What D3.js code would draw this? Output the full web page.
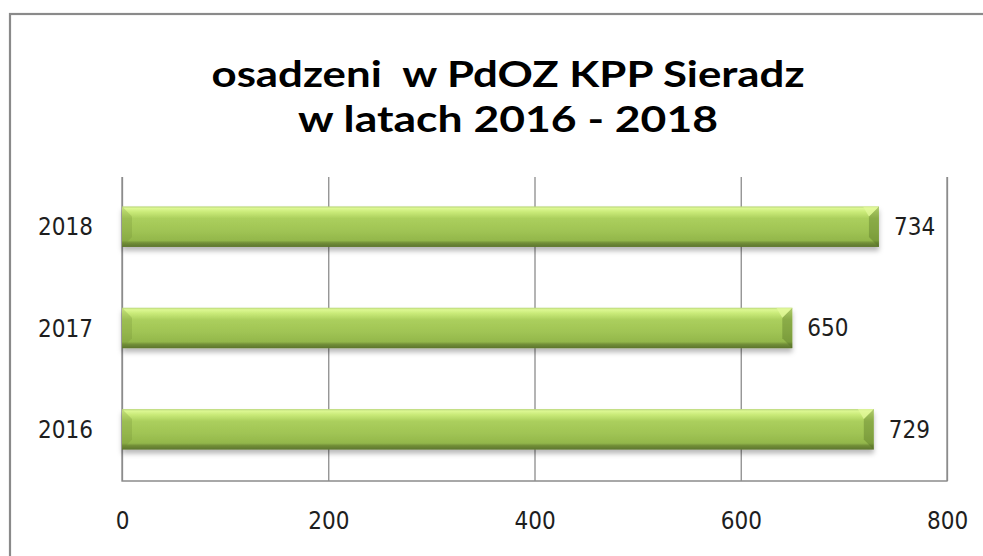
<!DOCTYPE html>
<html>
<head>
<meta charset="utf-8">
<script src="https://cdn.jsdelivr.net/npm/d3@7"></script>
<style>
  html, body { margin: 0; padding: 0; background: #fff; overflow: hidden; }
  svg { display: block; }
</style>
</head>
<body>
<div id="chart"></div>
<script>
// chart data
var years = ["2016", "2017", "2018"];
var counts = [729, 650, 734];
var xTicks = [0, 200, 400, 600, 800];
var titleLines = ["osadzeni  w PdOZ KPP Sieradz", "w latach 2016 - 2018"];

var width = 983, height = 556;
var m = {left: 122, right: 947, top: 177, bottom: 481};
var labelFont = "'DejaVu Sans Condensed', 'DejaVu Sans', sans-serif";

var svg = d3.select("#chart").append("svg")
    .attr("width", width)
    .attr("height", height);

var defs = svg.append("defs");

// vertical gradient for the bevelled bars
var grad = defs.append("linearGradient")
    .attr("id", "barGrad")
    .attr("x1", 0).attr("y1", 0).attr("x2", 0).attr("y2", 1);
[
    [0, "#b9d67a"], [0.05, "#dcf792"], [0.14, "#c9ea78"], [0.3, "#abcf5d"],
    [0.6, "#a0c454"], [0.84, "#93b74b"], [0.9, "#728f38"], [1, "#5c742d"]
].forEach(function (s) {
    grad.append("stop").attr("offset", s[0]).attr("stop-color", s[1]);
});

var shadow = defs.append("filter")
    .attr("id", "barShadow")
    .attr("x", "-5%").attr("y", "-20%").attr("width", "110%").attr("height", "160%");
shadow.append("feDropShadow")
    .attr("dx", 0).attr("dy", 4)
    .attr("stdDeviation", 2.5)
    .attr("flood-color", "#000")
    .attr("flood-opacity", 0.28);

// outer chart frame (runs off the picture on right and bottom)
svg.append("rect")
    .attr("x", 10).attr("y", 14)
    .attr("width", 1200).attr("height", 800)
    .attr("fill", "none")
    .attr("stroke", "#8a8a8a")
    .attr("stroke-width", 2.2);

// title
var title = svg.append("g");
var titleWidths = [593, 420];
title.selectAll("text")
    .data(titleLines)
    .enter().append("text")
    .attr("x", 508)
    .attr("y", function (d, i) { return 87 + i * 45; })
    .attr("text-anchor", "middle")
    .attr("textLength", function (d, i) { return titleWidths[i]; })
    .attr("lengthAdjust", "spacingAndGlyphs")
    .style("font-family", "Lato, 'Open Sans', sans-serif")
    .style("font-weight", "bold")
    .style("font-size", "37px")
    .style("fill", "#000")
    .style("white-space", "pre")
    .text(function (d) { return d; });

var x = d3.scaleLinear()
    .domain([0, 800])
    .range([m.left, m.right]);

var y = d3.scaleBand()
    .domain(years.slice().reverse())
    .range([m.top, m.bottom])
    .paddingInner(0.6)
    .paddingOuter(0.3);

// gridlines + bottom tick labels
var xAxis = svg.append("g")
    .attr("transform", "translate(0," + m.bottom + ")")
    .call(d3.axisBottom(x)
        .tickValues(xTicks)
        .tickSize(-(m.bottom - m.top))
        .tickPadding(31));
xAxis.select(".domain").remove();
xAxis.selectAll(".tick line")
    .attr("stroke", "#8c8c8c")
    .attr("stroke-width", 1.3);
xAxis.selectAll(".tick text")
    .style("font-family", labelFont)
    .style("font-size", "24px")
    .style("fill", "#1e1e1e");

// plot border: left, bottom, right
svg.append("path")
    .attr("d", "M" + m.left + "," + m.top + "V" + m.bottom + "H" + m.right + "V" + m.top)
    .attr("fill", "none")
    .attr("stroke", "#8c8c8c")
    .attr("stroke-width", 1.3);

// category labels
var yAxis = svg.append("g")
    .attr("transform", "translate(" + m.left + ",0)")
    .call(d3.axisLeft(y).tickSize(0).tickPadding(29));
yAxis.select(".domain").remove();
yAxis.selectAll(".tick text")
    .style("font-family", labelFont)
    .style("font-size", "24px")
    .style("fill", "#1e1e1e");

// bars
var bars = svg.append("g").selectAll("g.bar")
    .data(years.map(function (yr, i) { return {year: yr, value: counts[i]}; }))
    .enter().append("g")
    .attr("class", "bar");

bars.append("rect")
    .attr("x", x(0))
    .attr("y", function (d) { return y(d.year) - 1; })
    .attr("width", function (d) { return x(d.value) - x(0); })
    .attr("height", y.bandwidth())
    .attr("fill", "url(#barGrad)")
    .attr("filter", "url(#barShadow)");

var bev = 10;
// left bevel face
bars.append("path")
    .attr("d", function (d) {
        var x0 = x(0), y0 = y(d.year) - 1, y1 = y0 + y.bandwidth();
        return "M" + x0 + "," + y0 + "L" + (x0 + bev) + "," + (y0 + bev) +
            "V" + (y1 - bev) + "L" + x0 + "," + y1 + "Z";
    })
    .attr("fill", "#6f8d33")
    .attr("opacity", 0.25);
// right bevel face
bars.append("path")
    .attr("d", function (d) {
        var x1 = x(d.value), y0 = y(d.year) - 1, y1 = y0 + y.bandwidth();
        return "M" + x1 + "," + y0 + "L" + (x1 - bev) + "," + (y0 + bev) +
            "V" + (y1 - bev) + "L" + x1 + "," + y1 + "Z";
    })
    .attr("fill", "#4e6a1f")
    .attr("opacity", 0.35);
// light top-right corner
bars.append("path")
    .attr("d", function (d) {
        var x1 = x(d.value), y0 = y(d.year) - 1;
        return "M" + (x1 - bev) + "," + (y0 + bev) + "L" + x1 + "," + y0 + "H" + (x1 - bev * 1.6) + "Z";
    })
    .attr("fill", "#e4fa9c")
    .attr("opacity", 0.7);

// value labels
bars.append("text")
    .attr("x", function (d) { return x(d.value) + 15; })
    .attr("y", function (d) { return y(d.year) - 1 + y.bandwidth() / 2; })
    .attr("dy", "0.35em")
    .style("font-family", labelFont)
    .style("font-size", "24px")
    .style("fill", "#1e1e1e")
    .text(function (d) { return d.value; });
</script>
</body>
</html>
